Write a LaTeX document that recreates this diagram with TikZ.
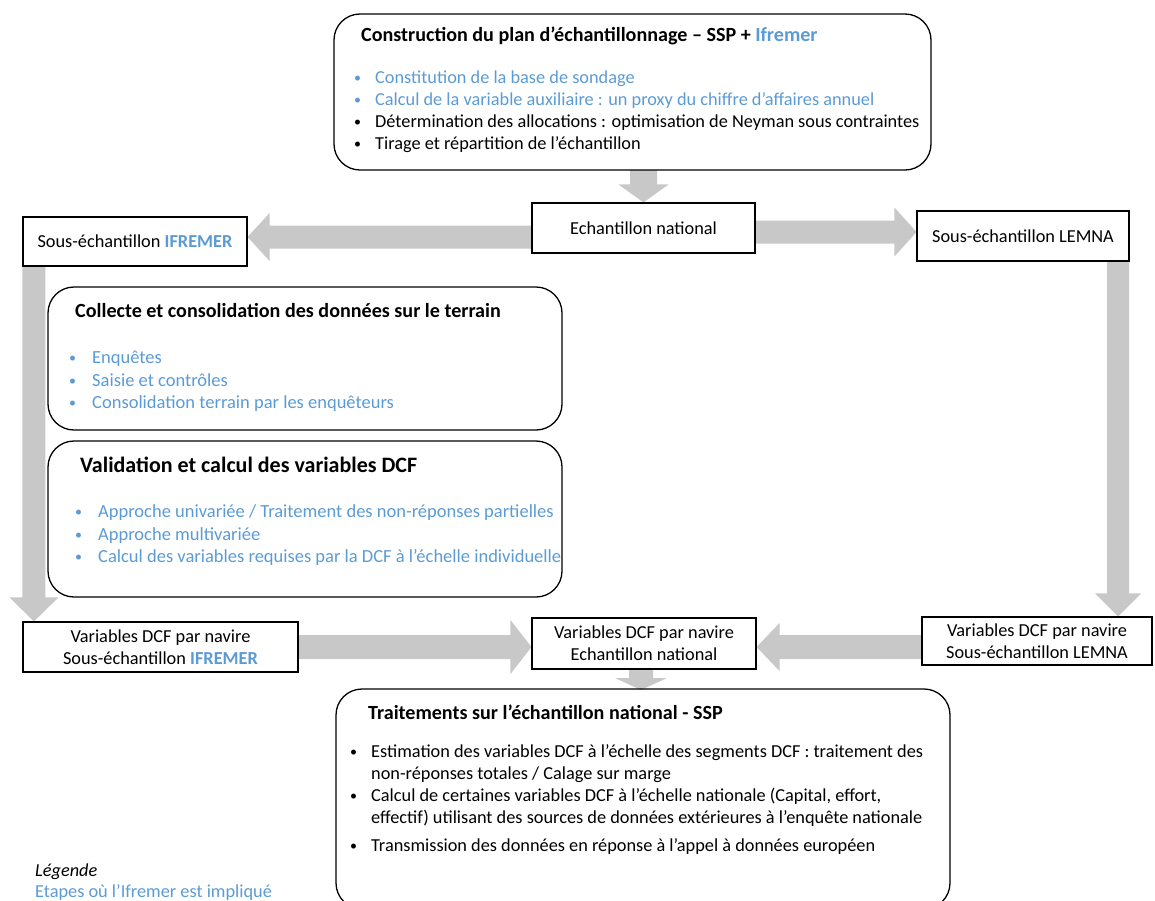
\documentclass[tikz,border=0pt]{standalone}
\usepackage{fontspec}
\setmainfont{Carlito}
\usetikzlibrary{calc}
\definecolor{ifblue}{HTML}{5B9BD5}
\definecolor{arrowgray}{RGB}{200,200,200}
% #1 from, #2 tip, #3 shaft half width, #4 head half width, #5 head length
\newcommand\blockarrow[5]{%
  \fill[blockfill] let \p3=($#2!#5!#1$) in
    ($#1!#3!90:#2$) -- ($(\p3)!#3!90:#2$) -- ($(\p3)!#4!90:#2$) -- #2
    -- ($(\p3)!#4!-90:#2$) -- ($(\p3)!#3!-90:#2$) -- ($#1!#3!-90:#2$) -- cycle;}
\newcommand\bul{{\fontsize{14}{22}\selectfont\raisebox{0.5pt}{\textbullet}}}
\begin{document}
\begin{tikzpicture}[x=1pt,y=-1pt,
  every node/.style={font=\fontsize{18.3}{22}\selectfont, inner sep=0pt},
  blockfill/.style={fill=arrowgray, draw=none},
  rbox/.style={draw=black, line width=1.3pt, rounded corners=26pt, inner sep=0pt},
  sbox/.style={draw=black, line width=1.1pt, fill=white, inner sep=0pt, align=center},
  txt/.style={anchor=base west},
  mtxt/.style={anchor=base west, font=\fontsize{18.5}{22}\selectfont},
  ttl/.style={anchor=base west, font=\fontsize{20.1}{24}\selectfont\bfseries},
  blue/.style={text=ifblue}]
\useasboundingbox (0,0) rectangle (1155,900);
\clip (0,0) rectangle (1155,900);

% ---- boxes (shapes) ----
\node[sbox, minimum width=223pt, minimum height=50pt] (ech) at (643.5,228) {Echantillon national};
\node[sbox, minimum width=224pt, minimum height=49pt] (ifr) at (135,241.5) {Sous-échantillon \textbf{\textcolor{ifblue}{IFREMER}}};
\node[sbox, minimum width=212pt, minimum height=50pt] (lem) at (1023,236) {Sous-échantillon LEMNA};
\node[sbox, minimum width=275pt, minimum height=50pt] (vifr) at (160.5,647) {Variables DCF par navire\\Sous-échantillon \textbf{\textcolor{ifblue}{IFREMER}}};
\node[sbox, minimum width=224pt, minimum height=51pt] (vnat) at (644,643.5) {Variables DCF par navire\\Echantillon national};
\node[sbox, minimum width=230pt, minimum height=48pt] (vlem) at (1037,641) {Variables DCF par navire\\Sous-échantillon LEMNA};

% ---- block arrows ----
\coordinate (a1) at (ech.north |- 0,170);
\blockarrow{(a1)}{(ech.north)}{13.5pt}{25pt}{18pt}
\coordinate (a2) at ($(ech.west)+(0,9)$);
\coordinate (a2t) at (ifr.east |- a2);
\blockarrow{(a2)}{(a2t)}{11.5pt}{24pt}{22pt}
\coordinate (a3) at ($(ech.east)+(0,4)$);
\coordinate (a3t) at (lem.west |- a3);
\blockarrow{(a3)}{(a3t)}{11.5pt}{24.5pt}{22pt}
\coordinate (a4) at ($(ifr.south west)+(11.5,0)$);
\coordinate (a4t) at (a4 |- vifr.north);
\blockarrow{(a4)}{(a4t)}{11.5pt}{24.5pt}{24pt}
\coordinate (a5) at ($(lem.south east)+(-11.5,0)$);
\coordinate (a5t) at (a5 |- vlem.north);
\blockarrow{(a5)}{(a5t)}{11pt}{23pt}{23pt}
\coordinate (a6t) at (vnat.west |- vifr.east);
\blockarrow{(vifr.east)}{(a6t)}{12pt}{27pt}{21pt}
\coordinate (a7) at ($(vlem.west)+(0,6)$);
\coordinate (a7t) at (vnat.east |- a7);
\blockarrow{(a7)}{(a7t)}{12pt}{24pt}{23pt}
\coordinate (a8) at ($(vnat.south)+(-3,0)$);
\coordinate (a8t) at (a8 |- 0,690);
\blockarrow{(a8)}{(a8t)}{12pt}{26pt}{12pt}

% redraw small boxes on top of arrows
\node[sbox, minimum width=223pt, minimum height=50pt] (ech2) at (ech) {Echantillon national};
\node[sbox, minimum width=224pt, minimum height=49pt] (ifr2) at (ifr) {Sous-échantillon \textbf{\textcolor{ifblue}{IFREMER}}};
\node[sbox, minimum width=212pt, minimum height=50pt] (lem2) at (lem) {Sous-échantillon LEMNA};
\node[sbox, minimum width=275pt, minimum height=50pt] (vifr2) at (vifr) {Variables DCF par navire\\Sous-échantillon \textbf{\textcolor{ifblue}{IFREMER}}};
\node[sbox, minimum width=224pt, minimum height=51pt] (vnat2) at (vnat) {Variables DCF par navire\\Echantillon national};
\node[sbox, minimum width=230pt, minimum height=48pt] (vlem2) at (vlem) {Variables DCF par navire\\Sous-échantillon LEMNA};

% ---- rounded boxes ----
\node[rbox, minimum width=597pt, minimum height=156pt] (plan) at (632.5,92) {};
\node[rbox, minimum width=514pt, minimum height=143pt] (coll) at (305,358.5) {};
\node[rbox, minimum width=514pt, minimum height=156pt] (valid) at (305,519) {};
\node[rbox, minimum width=614pt, minimum height=220pt] (trait) at (643,799) {};

% ---- top box text ----
\node[ttl] (pt) at (361,41) {Construction du plan d’échantillonnage – SSP + \textcolor{ifblue}{Ifremer}};
\node[txt, blue] (pb1) at (354,83) {\bul};
\node[txt, blue] (p1) at (375,83) {Constitution de la base de sondage};
\node[txt, blue] (pb2) at (354,105) {\bul};
\node[txt, blue] (p2) at (375,105) {Calcul de la variable auxiliaire : un proxy du chiffre d’affaires annuel};
\node[txt] (pb3) at (354,127) {\bul};
\node[txt] (p3) at (375,127) {Détermination des allocations : optimisation de Neyman sous contraintes};
\node[txt] (pb4) at (354,149) {\bul};
\node[txt] (p4) at (375,149) {Tirage et répartition de l’échantillon};

% ---- collecte ----
\node[ttl] (ct) at (75,317) {Collecte et consolidation des données sur le terrain};
\node[mtxt, blue] (cb1) at (69,363) {\bul};
\node[mtxt, blue] (c1) at (92,363) {Enquêtes};
\node[mtxt, blue] (cb2) at (69,386) {\bul};
\node[mtxt, blue] (c2) at (92,386) {Saisie et contrôles};
\node[mtxt, blue] (cb3) at (69,408) {\bul};
\node[mtxt, blue] (c3) at (92,408) {Consolidation terrain par les enquêteurs};

% ---- validation ----
\node[ttl, font=\fontsize{22}{26}\selectfont\bfseries] (vt) at (80,472) {Validation et calcul des variables DCF};
\node[mtxt, blue] (vb1) at (75,517) {\bul};
\node[mtxt, blue] (v1) at (98,517) {Approche univariée / Traitement des non-réponses partielles};
\node[mtxt, blue] (vb2) at (75,540) {\bul};
\node[mtxt, blue] (v2) at (98,540) {Approche multivariée};
\node[mtxt, blue] (vb3) at (75,562) {\bul};
\node[mtxt, blue] (v3) at (98,562) {Calcul des variables requises par la DCF à l’échelle individuelle};

% ---- traitements ----
\node[ttl] (tt) at (368,719) {Traitements sur l’échantillon national - SSP};
\node[txt] (tb1) at (350,757) {\bul};
\node[txt] (t1) at (371,757) {Estimation des variables DCF à l’échelle des segments DCF : traitement des};
\node[txt] (t1b) at (371,779) {non-réponses totales / Calage sur marge};
\node[txt] (tb2) at (350,801) {\bul};
\node[txt] (t2) at (371,801) {Calcul de certaines variables DCF à l’échelle nationale (Capital, effort,};
\node[txt] (t2b) at (371,823) {effectif) utilisant des sources de données extérieures à l’enquête nationale};
\node[txt] (tb3) at (350,851) {\bul};
\node[txt] (t3) at (371,851) {Transmission des données en réponse à l’appel à données européen};

% ---- legend ----
\node[txt, font=\fontsize{18.3}{22}\selectfont\itshape] (lg) at (35,876) {Légende};
\node[txt, blue] (lg2) at (35,897) {Etapes où l’Ifremer est impliqué};
\end{tikzpicture}
\end{document}
